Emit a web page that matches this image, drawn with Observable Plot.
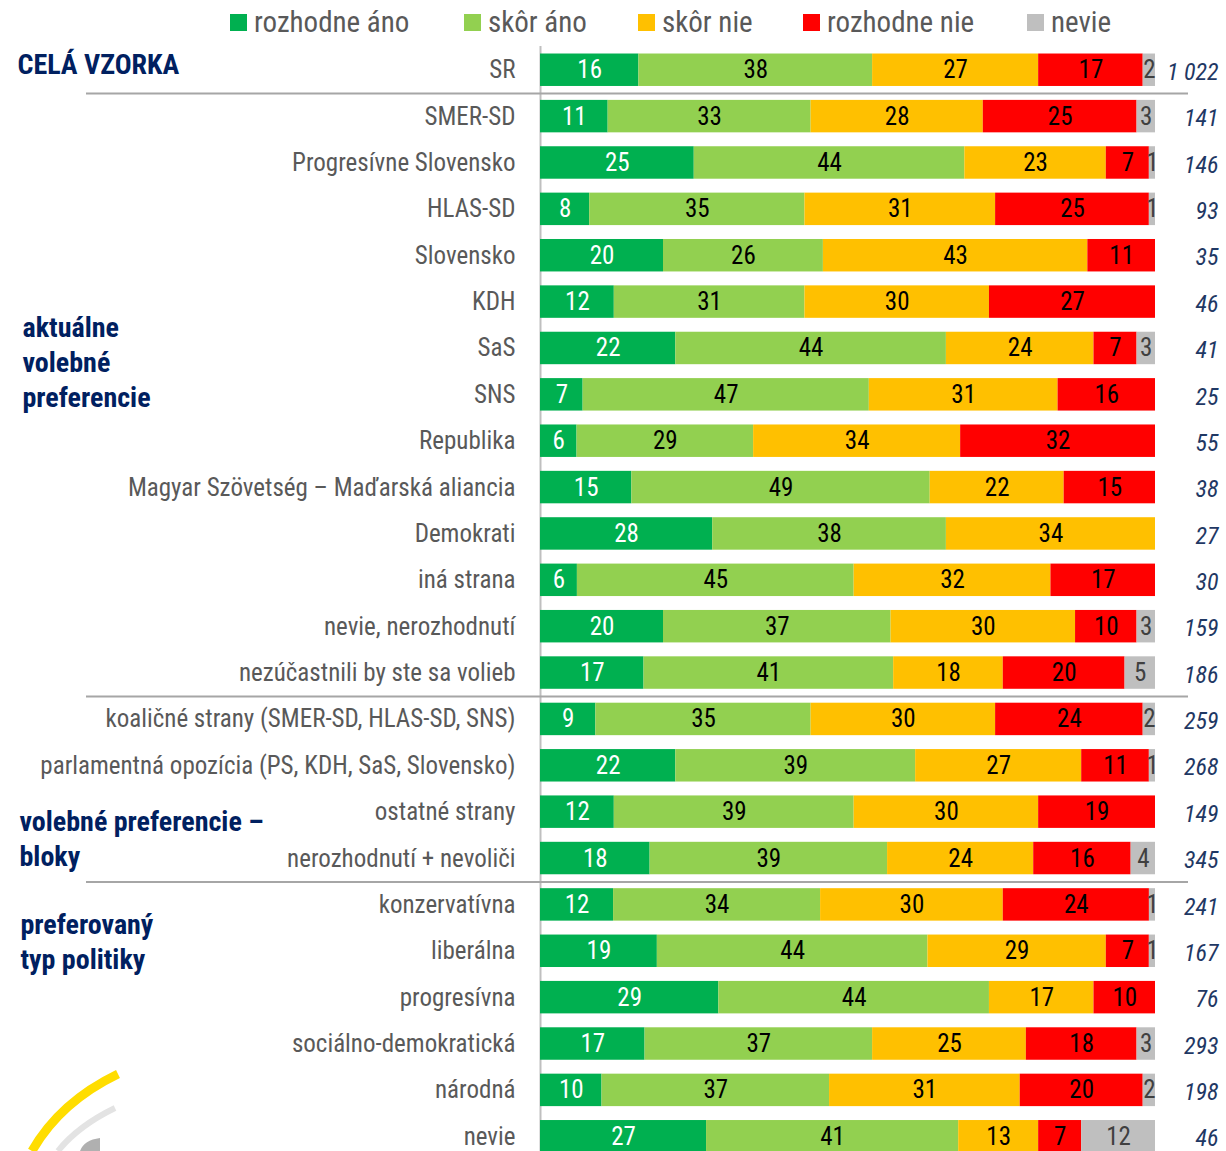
<!DOCTYPE html>
<html>
<head>
<meta charset="utf-8">
<script src="https://cdn.jsdelivr.net/npm/d3@7"></script>
<script src="https://cdn.jsdelivr.net/npm/@observablehq/plot@0.6"></script>
<style>
  html, body { margin: 0; padding: 0; background: #fff; }
  #wrap { position: relative; width: 1226px; height: 1151px; overflow: hidden; font-family: "Liberation Sans Narrow", "Arial Narrow", "Roboto Condensed", "DejaVu Sans Condensed", sans-serif; }
  #legend { position: absolute; left: 0; top: 0; width: 1226px; height: 46px; }
  .lg-item { position: absolute; top: 0; display: flex; align-items: center; height: 44px; color: #595959; font-size: 29px; }
  .lg-sw { width: 17px; height: 17px; margin-right: 7px; }
  #logo { position: absolute; left: 0; top: 1040px; }
</style>
</head>
<body>
<div id="wrap">
  <div id="chart"></div>
  <div id="legend"></div>
  <svg id="logo" width="200" height="111" viewBox="0 0 200 111">
    <path d="M118 34 Q 60 62 32 111" fill="none" stroke="#FFDD00" stroke-width="9"/>
    <path d="M115 68 Q 78 86 58 111" fill="none" stroke="#E3E3E3" stroke-width="6"/>
    <path d="M80 111 Q 84 100 100 98 L 100 111 Z" fill="#B0B0B0"/>
  </svg>
</div>
<script>
const FONT = '"Liberation Sans Narrow", "Arial Narrow", "Roboto Condensed", "DejaVu Sans Condensed", sans-serif';

const categories = [
  "SR", "SMER-SD", "Progresívne Slovensko", "HLAS-SD", "Slovensko", "KDH", "SaS", "SNS",
  "Republika", "Magyar Szövetség – Maďarská aliancia", "Demokrati", "iná strana",
  "nevie, nerozhodnutí", "nezúčastnili by ste sa volieb",
  "koaličné strany (SMER-SD, HLAS-SD, SNS)", "parlamentná opozícia (PS, KDH, SaS, Slovensko)",
  "ostatné strany", "nerozhodnutí + nevoliči",
  "konzervatívna", "liberálna", "progresívna", "sociálno-demokratická", "národná", "nevie"
];
const counts = ["1 022", "141", "146", "93", "35", "46", "41", "25", "55", "38", "27", "30",
  "159", "186", "259", "268", "149", "345", "241", "167", "76", "293", "198", "46"];

const seriesNames = ["rozhodne áno", "skôr áno", "skôr nie", "rozhodne nie", "nevie"];
const rozhodneAno = [16, 11, 25, 8, 20, 12, 22, 7, 6, 15, 28, 6, 20, 17, 9, 22, 12, 18, 12, 19, 29, 17, 10, 27];
const skorAno     = [38, 33, 44, 35, 26, 31, 44, 47, 29, 49, 38, 45, 37, 41, 35, 39, 39, 39, 34, 44, 44, 37, 37, 41];
const skorNie     = [27, 28, 23, 31, 43, 30, 24, 31, 34, 22, 34, 32, 30, 18, 30, 27, 30, 24, 30, 29, 17, 25, 31, 13];
const rozhodneNie = [17, 25, 7, 25, 11, 27, 7, 16, 32, 15, 0, 17, 10, 20, 24, 11, 19, 16, 24, 7, 10, 18, 20, 7];
const nevieVals   = [2, 3, 1, 1, 0, 0, 3, 0, 0, 0, 0, 0, 3, 5, 2, 1, 0, 4, 1, 1, 0, 3, 2, 12];

const groupTitles = ["CELÁ VZORKA", "aktuálne\nvolebné\npreferencie", "volebné preferencie –\nbloky", "preferovaný\ntyp politiky"];
const groupAnchorRows = ["SR", "SaS", "ostatné strany", "konzervatívna"];
const separatorRows = ["SMER-SD", "koaličné strany (SMER-SD, HLAS-SD, SNS)", "konzervatívna"];

// styles
const seriesColors = ["#00B050", "#92D050", "#FFC000", "#FF0000", "#BFBFBF"];
const labelColors = ["#FFFFFF", "#000000", "#000000", "#000000", "#404040"];

const seriesValues = [rozhodneAno, skorAno, skorNie, rozhodneNie, nevieVals];
const data = categories.flatMap((c, i) =>
  seriesNames.map((s, j) => ({cat: c, series: s, value: seriesValues[j][i]})));

const stackOpts = {x: "value", y: "cat", z: "series", offset: "normalize"};

const groupStyle = [
  {dx: -523, dy: -7},
  {dx: -518, dy: 12},
  {dx: -521, dy: 25},
  {dx: -520, dy: 35}
];

const chart = Plot.plot({
  width: 1226,
  height: 1151,
  marginLeft: 540,
  marginRight: 71,
  marginTop: 46,
  marginBottom: 0,
  x: {domain: [0, 1], axis: null},
  y: {domain: categories, range: [39.6, 1166.4], padding: 0.3, round: false, axis: null},
  color: {domain: seriesNames, range: seriesColors},
  style: {fontFamily: FONT, fontSize: "24px", background: "transparent", overflow: "visible"},
  marks: [
    Plot.ruleX([0], {stroke: "#BFBFBF", strokeWidth: 2}),
    Plot.ruleY(separatorRows, {y: d => d, dy: -23, insetLeft: -454, insetRight: -33, stroke: "#A6A6A6", strokeWidth: 2}),
    Plot.barX(data, Plot.stackX({...stackOpts, fill: "series"})),
    ...seriesNames.map((s, j) => Plot.text(data, Plot.stackX({
      ...stackOpts,
      text: d => (d.series === s && d.value > 0) ? String(d.value) : "",
      fill: labelColors[j],
      fontSize: 25
    }))),
    Plot.axisY({tickSize: 0, tickPadding: 25, fontSize: 25, color: "#595959", label: null}),
    Plot.text(categories, {
      y: d => d, text: (d, i) => counts[i],
      frameAnchor: "right", textAnchor: "end", dx: 63, dy: 2,
      fontStyle: "italic", fill: "#1F3864", fontSize: 24
    }),
    ...groupTitles.map((t, k) => Plot.text([t], {
      y: () => groupAnchorRows[k], text: d => d,
      frameAnchor: "left", textAnchor: "start",
      dx: groupStyle[k].dx, dy: groupStyle[k].dy,
      fill: "#002060", fontWeight: "bold", fontSize: 28, lineHeight: 1.25
    }))
  ]
});
document.getElementById("chart").appendChild(chart);

// legend
const legendLeft = [230, 464, 638, 803, 1027];
const legend = document.getElementById("legend");
seriesNames.forEach((s, j) => {
  const item = document.createElement("div");
  item.className = "lg-item";
  item.style.left = legendLeft[j] + "px";
  const sw = document.createElement("div");
  sw.className = "lg-sw";
  sw.style.background = seriesColors[j];
  const tx = document.createElement("span");
  tx.textContent = s;
  item.appendChild(sw);
  item.appendChild(tx);
  legend.appendChild(item);
});
</script>
</body>
</html>
